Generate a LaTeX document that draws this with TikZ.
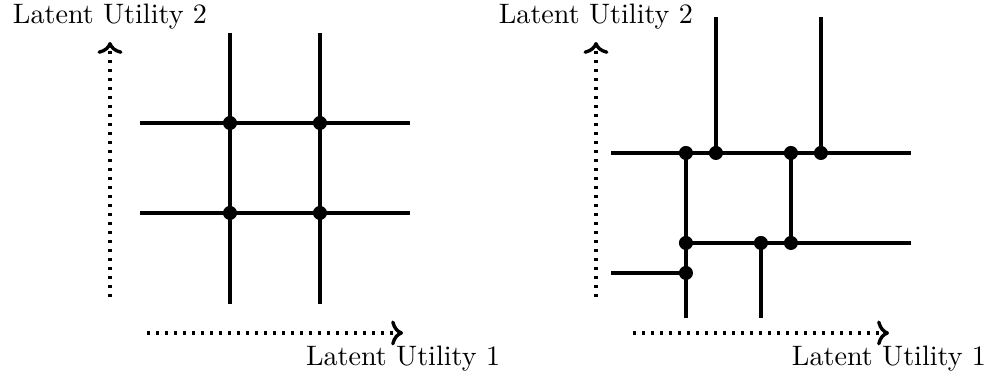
\documentclass[tikz,border=0pt]{standalone}
\usetikzlibrary{arrows.meta}
\tikzset{
  wire/.style={line width=1.4pt},
  axis/.style={->, dotted, very thick},
  dot/.style={circle, fill, inner sep=0pt, minimum size=5pt},
  axislbl/.style={anchor=base, inner sep=0pt},
}

\begin{document}
\begin{tikzpicture}[x=0.375cm, y=0.375cm]
  \useasboundingbox (-0.667,-1.4) rectangle (32.37,11.1);
  % left: regular grid of two cuts per utility
  \begin{scope}
    \coordinate (Lyfoot) at (3,1.2);
    \coordinate (Lytip) at (3,9.7);
    \coordinate (Lxfoot) at (4.23,0);
    \coordinate (Lxtip) at (12.77,0);
    \draw[axis] (Lyfoot) -- (Lytip);
    \draw[axis] (Lxfoot) -- (Lxtip);
    \node[axislbl] (Lylbl) at (3,10.33) {Latent Utility 2};
    \node[axislbl] (Lxlbl) at (12.77,-1.07) {Latent Utility 1};
    \coordinate (Lh1w) at (4,7);  \coordinate (Lh1e) at (13,7);
    \coordinate (Lh2w) at (4,4);  \coordinate (Lh2e) at (13,4);
    \coordinate (Lv1n) at (7,10); \coordinate (Lv1s) at (7,0.97);
    \coordinate (Lv2n) at (10,10); \coordinate (Lv2s) at (10,0.97);
    \draw[wire] (Lh1w) -- (Lh1e); \draw[wire] (Lh2w) -- (Lh2e);
    \draw[wire] (Lv1n) -- (Lv1s); \draw[wire] (Lv2n) -- (Lv2s);
    \node[dot] (La) at (7,7) {};
    \node[dot] (Lb) at (10,7) {};
    \node[dot] (Lc) at (7,4) {};
    \node[dot] (Ld) at (10,4) {};
  \end{scope}
  % right: irregular partition, cuts end where they meet
  \begin{scope}[xshift=6.075cm]
    \coordinate (Ryfoot) at (3,1.2);
    \coordinate (Rytip) at (3,9.7);
    \coordinate (Rxfoot) at (4.23,0);
    \coordinate (Rxtip) at (12.77,0);
    \draw[axis] (Ryfoot) -- (Rytip);
    \draw[axis] (Rxfoot) -- (Rxtip);
    \node[axislbl] (Rylbl) at (3,10.33) {Latent Utility 2};
    \node[axislbl] (Rxlbl) at (12.77,-1.07) {Latent Utility 1};
    \coordinate (Rp1) at (6,6);   \coordinate (Rp2) at (7,6);
    \coordinate (Rp3) at (9.5,6); \coordinate (Rp4) at (10.5,6);
    \coordinate (Rp5) at (6,3);   \coordinate (Rp6) at (8.5,3);
    \coordinate (Rp7) at (9.5,3); \coordinate (Rp8) at (6,2);
    \coordinate (Rh1w) at (3.5,6); \coordinate (Rh1e) at (13.5,6);
    \coordinate (Rh2e) at (13.5,3);
    \coordinate (Rh3w) at (3.5,2);
    \coordinate (Rv1s) at (6,0.5);
    \coordinate (Rv2n) at (7,10.53);
    \coordinate (Rv4n) at (10.5,10.53);
    \coordinate (Rv5s) at (8.5,0.5);
    \draw[wire] (Rh1w) -- (Rh1e);
    \draw[wire] (Rp5) -- (Rh2e);
    \draw[wire] (Rh3w) -- (Rp8);
    \draw[wire] (Rp1) -- (Rv1s);
    \draw[wire] (Rp2) -- (Rv2n);
    \draw[wire] (Rp3) -- (Rp7);
    \draw[wire] (Rp4) -- (Rv4n);
    \draw[wire] (Rp6) -- (Rv5s);
    \node[dot] (Ra) at (Rp1) {};
    \node[dot] (Rb) at (Rp2) {};
    \node[dot] (Rc) at (Rp3) {};
    \node[dot] (Rd) at (Rp4) {};
    \node[dot] (Re) at (Rp5) {};
    \node[dot] (Rf) at (Rp6) {};
    \node[dot] (Rg) at (Rp7) {};
    \node[dot] (Rh) at (Rp8) {};
  \end{scope}
\end{tikzpicture}
\end{document}
